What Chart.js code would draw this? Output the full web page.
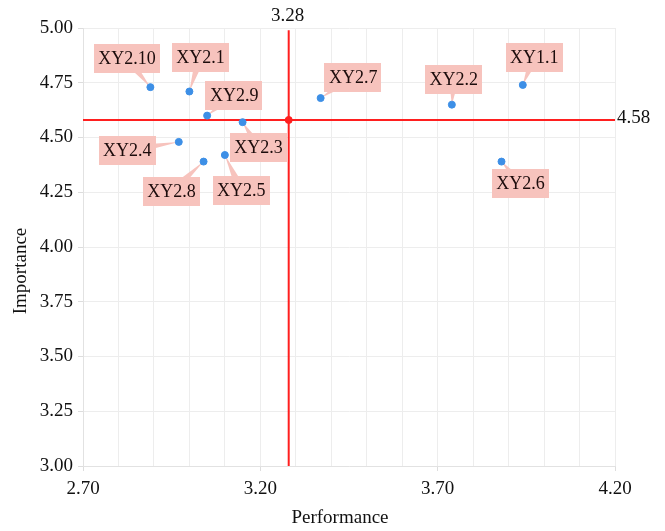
<!DOCTYPE html>
<html>
<head>
<meta charset="utf-8">
<script src="https://cdn.jsdelivr.net/npm/chart.js@4/dist/chart.umd.min.js"></script>
<style>
  html, body { margin: 0; padding: 0; background: #fff; }
  #wrap { width: 665px; height: 531px; position: relative; }
</style>
</head>
<body>
<div id="wrap"><canvas id="ipa"></canvas></div>
<script>
// Importance–performance items
const itemNames   = ['XY1.1', 'XY2.1', 'XY2.2', 'XY2.3', 'XY2.4', 'XY2.5', 'XY2.6', 'XY2.7', 'XY2.8', 'XY2.9', 'XY2.10'];
const performance = [3.94, 3.00, 3.74, 3.15, 2.97, 3.10, 3.88, 3.37, 3.04, 3.05, 2.89];
const importance  = [4.74, 4.71, 4.65, 4.57, 4.48, 4.42, 4.39, 4.68, 4.39, 4.60, 4.73];

// Quadrant dividers (mean values)
const meanPerformance = 3.28;
const meanImportance  = 4.58;

// Axis ticks
const xTickLabels = ['2.70', '3.20', '3.70', '4.20'];
const yTickLabels = ['3.00', '3.25', '3.50', '3.75', '4.00', '4.25', '4.50', '4.75', '5.00'];

// Callout placement: box centre relative to its point, in pixels
const calloutOffset = {
  'XY1.1':  [11.5, -27.5],
  'XY2.1':  [11, -34.5],
  'XY2.2':  [2, -25.5],
  'XY2.3':  [16, 25.5],
  'XY2.4':  [-51.5, 8.5],
  'XY2.5':  [16.5, 35.5],
  'XY2.6':  [19, 22],
  'XY2.7':  [32.5, -21],
  'XY2.8':  [-32, 30],
  'XY2.9':  [27, -20.5],
  'XY2.10': [-23.5, -28.5]
};

const SERIF = '"Liberation Serif", "DejaVu Serif", serif';
const RED = '#ff1f1f';
const PINK = '#f7c3bd';

const points = performance.map((p, i) => ({ x: p, y: importance[i], name: itemNames[i] }));

const xMin = parseFloat(xTickLabels[0]), xMax = parseFloat(xTickLabels[xTickLabels.length - 1]);
const yMin = parseFloat(yTickLabels[0]), yMax = parseFloat(yTickLabels[yTickLabels.length - 1]);

const isMajorX = v => xTickLabels.includes(v.toFixed(2));

// Callout boxes with tails, axis titles and divider values
const decorations = {
  id: 'decorations',
  beforeDatasetsDraw(chart) {
    const { ctx } = chart;
    const xs = chart.scales.x, ys = chart.scales.y;
    ctx.save();
    ctx.font = '18px ' + SERIF;
    points.forEach(pt => {
      const px = xs.getPixelForValue(pt.x), py = ys.getPixelForValue(pt.y);
      const [dx, dy] = calloutOffset[pt.name];
      const cx = px + dx, cy = py + dy;
      const w = ctx.measureText(pt.name).width + 9, h = 29;
      // tail: wedge from box centre toward the point
      const len = Math.hypot(dx, dy) || 1;
      const nx = -dy / len, ny = dx / len;
      const half = 5;
      ctx.fillStyle = PINK;
      ctx.beginPath();
      ctx.moveTo(px, py);
      ctx.lineTo(cx + nx * half, cy + ny * half);
      ctx.lineTo(cx - nx * half, cy - ny * half);
      ctx.closePath();
      ctx.fill();
      // box
      ctx.fillRect(Math.round(cx - w / 2), Math.round(cy - h / 2), Math.round(w), h);
      ctx.fillStyle = '#1c0c0c';
      ctx.textAlign = 'center';
      ctx.textBaseline = 'middle';
      ctx.fillText(pt.name, cx, cy + 1);
    });
    ctx.restore();
  },
  afterDraw(chart) {
    const { ctx, chartArea } = chart;
    const xs = chart.scales.x, ys = chart.scales.y;
    ctx.save();
    ctx.fillStyle = '#111';
    ctx.font = '19px ' + SERIF;
    // divider values
    ctx.textAlign = 'center';
    ctx.textBaseline = 'middle';
    ctx.fillText(meanPerformance.toFixed(2), xs.getPixelForValue(meanPerformance) - 1, 16);
    ctx.textAlign = 'left';
    ctx.fillText(meanImportance.toFixed(2), chartArea.right + 2, ys.getPixelForValue(meanImportance) - 2);
    // axis titles
    ctx.textAlign = 'center';
    ctx.fillText('Performance', 340, 518);
    ctx.translate(21, 271);
    ctx.rotate(-Math.PI / 2);
    ctx.fillText('Importance', 0, 0);
    ctx.restore();
  }
};

new Chart(document.getElementById('ipa'), {
  type: 'scatter',
  data: {
    datasets: [
      {
        label: 'Items',
        data: points,
        backgroundColor: '#3d8fe6',
        borderColor: '#3d8fe6',
        pointRadius: 3.5,
        pointHoverRadius: 3.5,
        order: 0
      },
      {
        type: 'line',
        label: 'Mean performance',
        data: [{ x: meanPerformance, y: yMin }, { x: meanPerformance, y: yMax - 0.01 }],
        borderColor: RED,
        borderWidth: 2,
        pointRadius: 0,
        order: 2
      },
      {
        type: 'line',
        label: 'Mean importance',
        data: [{ x: xMin, y: meanImportance }, { x: xMax, y: meanImportance }],
        borderColor: RED,
        borderWidth: 2,
        pointRadius: 0,
        order: 2
      },
      {
        label: 'Intersection',
        data: [{ x: meanPerformance, y: meanImportance }],
        backgroundColor: RED,
        borderColor: RED,
        pointRadius: 3.5,
        order: 1
      }
    ]
  },
  options: {
    responsive: true,
    maintainAspectRatio: false,
    animation: false,
    layout: { padding: { top: 28, right: 50, left: 0, bottom: 0 } },
    plugins: {
      legend: { display: false },
      tooltip: { enabled: false }
    },
    scales: {
      x: {
        type: 'linear',
        min: xMin,
        max: xMax,
        afterFit: s => { s.height = 65; },
        ticks: {
          stepSize: 0.1,
          autoSkip: false,
          maxRotation: 0,
          padding: 7,
          color: '#111',
          font: { family: SERIF, size: 19 },
          callback: v => (isMajorX(v) ? v.toFixed(2) : '')
        },
        grid: {
          color: '#ededed',
          lineWidth: 1,
          tickLength: 5,
          tickColor: c => (c.tick && isMajorX(c.tick.value) ? '#dddddd' : 'rgba(0,0,0,0)')
        },
        border: { color: '#e2e2e2' }
      },
      y: {
        type: 'linear',
        min: yMin,
        max: yMax,
        afterFit: s => { s.width = 83; },
        ticks: {
          stepSize: 0.25,
          padding: 5,
          color: '#111',
          font: { family: SERIF, size: 19 },
          callback: v => yTickLabels.find(l => Math.abs(parseFloat(l) - v) < 1e-6) || ''
        },
        grid: {
          color: '#ededed',
          lineWidth: 1,
          tickLength: 5,
          tickColor: '#dddddd'
        },
        border: { color: '#e2e2e2' }
      }
    }
  },
  plugins: [decorations]
});
</script>
</body>
</html>
